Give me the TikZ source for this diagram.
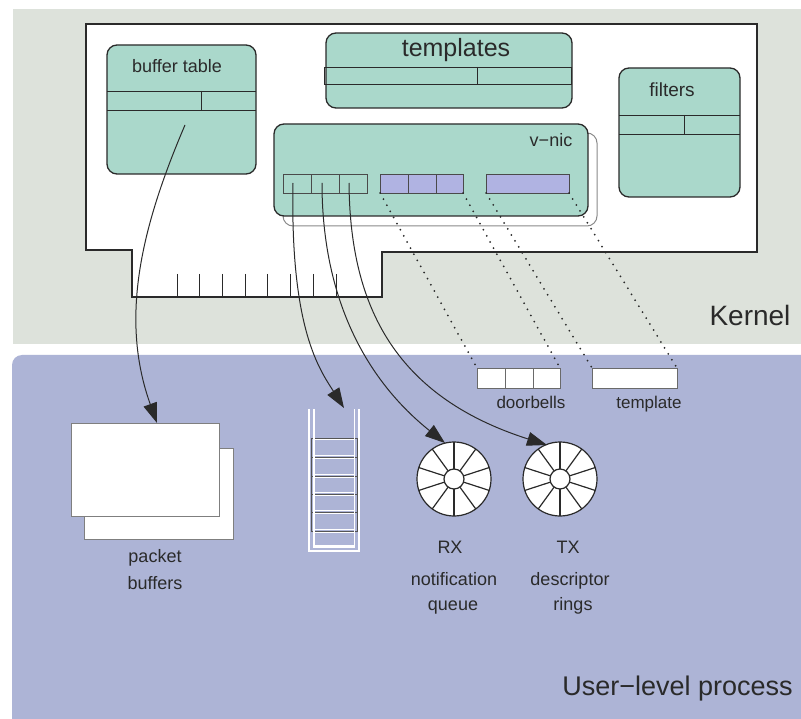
\documentclass[tikz,border=0pt]{standalone}
\usepackage{fontspec}
\setmainfont{Liberation Sans}
\usetikzlibrary{arrows.meta}

\definecolor{kernelbg}{HTML}{DDE2DB}
\definecolor{userbg}{HTML}{ADB4D6}
\definecolor{tealfill}{HTML}{AAD8CB}
\definecolor{lavcell}{HTML}{B0B3E2}
\definecolor{ink}{HTML}{2A2A2A}

\begin{document}
\begin{tikzpicture}[x=1pt, y=-1pt,
  tbox/.style={draw=ink, line width=1.3pt, fill=tealfill, rounded corners=10pt,
               inner sep=0pt, outer sep=0pt},
  cell/.style={draw=ink!85, line width=0.8pt, inner sep=0pt, outer sep=0pt,
               minimum height=19pt},
  ucell/.style={cell, fill=white, draw=ink!70, minimum height=20pt},
  rowline/.style={draw=ink, line width=0.9pt},
  lbl/.style={text=ink, inner sep=0pt, anchor=base},
  link/.style={draw=ink, line width=1pt, -{Triangle[length=20pt,width=14pt]}},
  ptr/.style={draw=ink, line width=2pt, dash pattern=on 0pt off 7pt, line cap=round},
  ring/.style={circle, draw=ink, line width=1.2pt, fill=white, inner sep=0pt,
               minimum size=74pt},
  sheet/.style={draw=ink!60, line width=1pt, fill=white, inner sep=0pt}
]
\useasboundingbox (0,0) rectangle (801,719);
\clip (0,0) rectangle (801,719);

% ---- background areas ----
\fill[white] (0,0) rectangle (801,719);
\fill[kernelbg] (13,9) rectangle (801,344);
\fill[userbg, rounded corners=10pt] (12,355) rectangle (830,750);

% ---- the NIC card ----
\draw[fill=white, draw=ink, line width=1.3pt]
  (86,24) -- (757,24) -- (757,252) -- (382,252) -- (382,297)
  -- (132,297) -- (132,250) -- (86,250) -- cycle;
\foreach \i in {0,...,7}
  \draw[ink, line width=0.8pt] (177+22.7*\i,274) -- ++(0,23);

% ---- buffer table ----
\node[tbox, minimum width=149pt, minimum height=129pt] (buftab) at (181.5,109.5) {};
\draw[rowline] (107,91) -- (256,91) (107,110) -- (256,110) (201,91) -- (201,110);
\node[lbl, font=\fontsize{18}{18}\selectfont] at (177,73) {buffer table};

% ---- templates ----
\node[tbox, minimum width=246pt, minimum height=75pt] (templ) at (449,70.5) {};
\draw[rowline] (324.5,67) rectangle (571.5,84) (477,67) -- (477,84);
\node[lbl, font=\fontsize{25}{25}\selectfont] at (456,57) {templates};

% ---- filters ----
\node[tbox, minimum width=121pt, minimum height=129pt] (filt) at (679.5,132.5) {};
\draw[rowline] (619,115) -- (740,115) (619,134) -- (740,134) (684,115) -- (684,134);
\node[lbl, font=\fontsize{19}{19}\selectfont] at (672,97) {filters};

% ---- v-nic ----
\node[draw=ink!55, line width=1pt, fill=white, rounded corners=10pt, inner sep=0pt,
      minimum width=314pt, minimum height=93pt] (vnicshadow) at (440,179.5) {};
\node[tbox, minimum width=314pt, minimum height=92pt] (vnic) at (431,170) {};
\node[lbl, font=\fontsize{18}{18}\selectfont] at (551,147) {v−nic};

\node[cell, fill=tealfill, minimum width=28pt] (q1) at (297,183.5) {};
\node[cell, fill=tealfill, minimum width=28pt] (q2) at (325,183.5) {};
\node[cell, fill=tealfill, minimum width=28pt] (q3) at (353,183.5) {};
\node[cell, fill=lavcell, minimum width=28pt] (d1) at (394,183.5) {};
\node[cell, fill=lavcell, minimum width=28pt] (d2) at (422,183.5) {};
\node[cell, fill=lavcell, minimum width=27pt] (d3) at (449.5,183.5) {};
\node[cell, fill=lavcell, minimum width=83pt] (tm) at (527.5,183.5) {};

\coordinate (s1) at (293,183);
\coordinate (s2) at (322,183);
\coordinate (s3) at (349,183);
\coordinate (sb) at (185,125);

% ---- user-level objects ----
\node[ucell, minimum width=28pt] (u1) at (491,378) {};
\node[ucell, minimum width=28pt] (u2) at (519,378) {};
\node[ucell, minimum width=27pt] (u3) at (546.5,378) {};
\node[ucell, minimum width=85pt] (ut) at (634.5,378) {};
\node[lbl, font=\fontsize{17}{17}\selectfont] at (531,409) {doorbells};
\node[lbl, font=\fontsize{17}{17}\selectfont] at (649,409) {template};

% packet buffers
\node[sheet, minimum width=149pt, minimum height=91pt] (pb2) at (158.5,493.5) {};
\node[sheet, minimum width=148pt, minimum height=93pt] (pb1) at (145,469.5) {};
\coordinate (pbtop) at (157,423);
\node[lbl, font=\fontsize{18}{18}\selectfont] at (155,562) {packet};
\node[lbl, font=\fontsize{18}{18}\selectfont] at (155,589) {buffers};

% queue (ladder)
\coordinate (ladder) at (334,480);
\coordinate (ladtop) at (344,408);
\foreach \y/\h in {438/457,457/476,476/494,494/512,512/531,531/547}{
  \draw[white, line width=0.8pt] (313.5,\y+1.8) rectangle (354.5,\h-1.8);
}
\foreach \y/\h in {438/457,476/494,512/531}{
  \draw[ink!80, line width=0.8pt] (311,\y) rectangle (357,\h);
}
\draw[ink!80, line width=0.8pt] (311,457) -- (311,476) (357,457) -- (357,476)
  (311,494) -- (311,512) (357,494) -- (357,512);
\draw[white, line width=1.3pt] (309,409) -- (309,551) -- (359,551) -- (359,409);
\draw[white, line width=1.1pt] (314,409) -- (314,547) -- (354.5,547) -- (354.5,409);

% rings
\node[ring] (rx) at (454,479) {};
\node[ring] (tx) at (560,479) {};
\foreach \r in {rx,tx}{
  \foreach \a in {18,54,...,342}
    \draw[ink, line width=1.2pt] (\r.center) ++(\a:10) -- ++(\a:27);
  \draw[ink, line width=1.2pt] (\r.center) circle[radius=10];
}
\coordinate (rxtop) at (445,443);
\coordinate (txtop) at (547,445);
\node[lbl, font=\fontsize{18}{18}\selectfont] at (450,553) {RX};
\node[lbl, font=\fontsize{18}{18}\selectfont] at (454,585) {notification};
\node[lbl, font=\fontsize{18}{18}\selectfont] at (453,610) {queue};
\node[lbl, font=\fontsize{18}{18}\selectfont] at (568,553) {TX};
\node[lbl, font=\fontsize{18}{18}\selectfont] at (570,585) {descriptor};
\node[lbl, font=\fontsize{18}{18}\selectfont] at (573,610) {rings};

% ---- area labels ----
\node[lbl, font=\fontsize{28}{28}\selectfont] at (750,326) {Kernel};
\node[lbl, anchor=base east, font=\fontsize{27}{27}\selectfont] at (793,695) {User−level process};

% ---- mappings ----
\draw[ptr] (d1.south west) -- (u1.north west);
\draw[ptr] (d3.south east) -- (u3.north east);
\draw[ptr] (tm.south west) -- (ut.north west);
\draw[ptr] (tm.south east) -- (ut.north east);

\draw[link] (sb) .. controls (140,230) and (120,320) .. (pbtop);
\draw[link] (s1) .. controls (290,330) and (320,370) .. (ladtop);
\draw[link] (s2) .. controls (322,290) and (360,375) .. (rxtop);
\draw[link] (s3) .. controls (350,300) and (390,395) .. (txtop);
\end{tikzpicture}
\end{document}
